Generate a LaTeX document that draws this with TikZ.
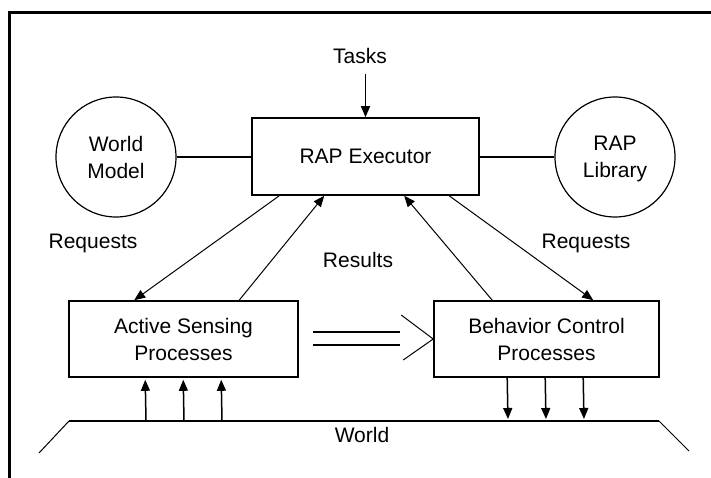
\documentclass[tikz,border=0pt]{standalone}
\usepackage{fontspec}
\setmainfont{Liberation Sans}
\usetikzlibrary{arrows.meta,calc}
\begin{document}
\begin{tikzpicture}[x=1pt,y=-1pt,
  lbl/.style={font=\fontsize{21}{27}\selectfont, inner sep=0pt, anchor=base},
  procbox/.style={draw, rectangle, line width=1.6pt, inner sep=0pt, align=center,
    text depth=0pt, font=\fontsize{21}{27}\selectfont},
  store/.style={draw, circle, line width=1.2pt, minimum size=120pt, inner sep=0pt,
    align=center, text depth=0pt, font=\fontsize{21}{27}\selectfont},
  tip/.style={-{Triangle[length=11pt,width=9pt]}},
  diag/.style={tip, line width=1pt},
  vert/.style={tip, line width=1.5pt},
  link/.style={line width=1.5pt}]

% page
\fill[white] (0,0) rectangle (711,478);
\useasboundingbox (0,0) rectangle (711,478);

% open frame: top and left edges
\draw[line width=3pt] (9,478) -- (9,13) -- (711,13);

% main components
\node[procbox, minimum width=227pt, minimum height=77pt] (exec) at (365.5,156.5) {RAP Executor};
\node[store] (wm) at (116,157) {World\\Model};
\node[store] (lib) at (615,157) {RAP\\Library};
\node[procbox, minimum width=229pt, minimum height=76pt] (as) at (183.5,339) {Active Sensing\\Processes};
\node[procbox, minimum width=225pt, minimum height=76pt] (bc) at (546.5,339) {Behavior Control\\Processes};

% labels
\node[lbl] (tasks) at (360,64) {Tasks};
\node[lbl] (reqL) at (93,248) {Requests};
\node[lbl] (reqR) at (586,248) {Requests};
\node[lbl] (res) at (358,267.5) {Results};

% world surface
\coordinate (wl) at (69,421);
\coordinate (wr) at (659,421);
\draw[line width=1.5pt] (wl) -- (wr);
\draw[line width=1pt] (wl) -- (39,453);
\draw[line width=1pt] (wr) -- (689,451);
\node[lbl] (world) at (362,442.5) {World};

% task input
\draw[vert] (tasks.south -| exec.north) ++(0,10) -- (exec.north);

% links to the stores
\draw[link] (wm.east) -- (wm.east -| exec.west);
\draw[link] (lib.west -| exec.east) -- (lib.west);

% requests and results
\draw[diag] ($(exec.south west)+(28,0)$) -- ($(as.north west)+(66,0)$);
\draw[diag] ($(as.north west)+(171,0)$) -- ($(exec.south west)+(73,0)$);
\draw[diag] ($(bc.north west)+(59,0)$) -- ($(exec.south west)+(153,0)$);
\draw[diag] ($(exec.south west)+(198,0)$) -- ($(bc.north west)+(160,0)$);

% sensing to behaviour: double-line arrow
\draw[link] ($(as.east)+(14,-7)$) -- ($(bc.west)+(-33,-7)$);
\draw[link] ($(as.east)+(14,6)$) -- ($(bc.west)+(-33,6)$);
\draw[line width=1pt] ($(bc.west)+(-32,-24)$) -- (bc.west) -- ($(bc.west)+(-30,21)$);

% sensing from the world
\foreach \dx in {77,115,153}
  \draw[vert, shorten >=2pt] ($(wl)+(\dx,0)$) -- ($(as.south west)+(\dx,0)$);

% actions on the world
\foreach \dx in {74,112,150}
  \draw[vert, shorten >=2pt] ($(bc.south west)+(\dx,0)$) -- ($(wl)+(\dx+365,0)$);
\end{tikzpicture}
\end{document}
